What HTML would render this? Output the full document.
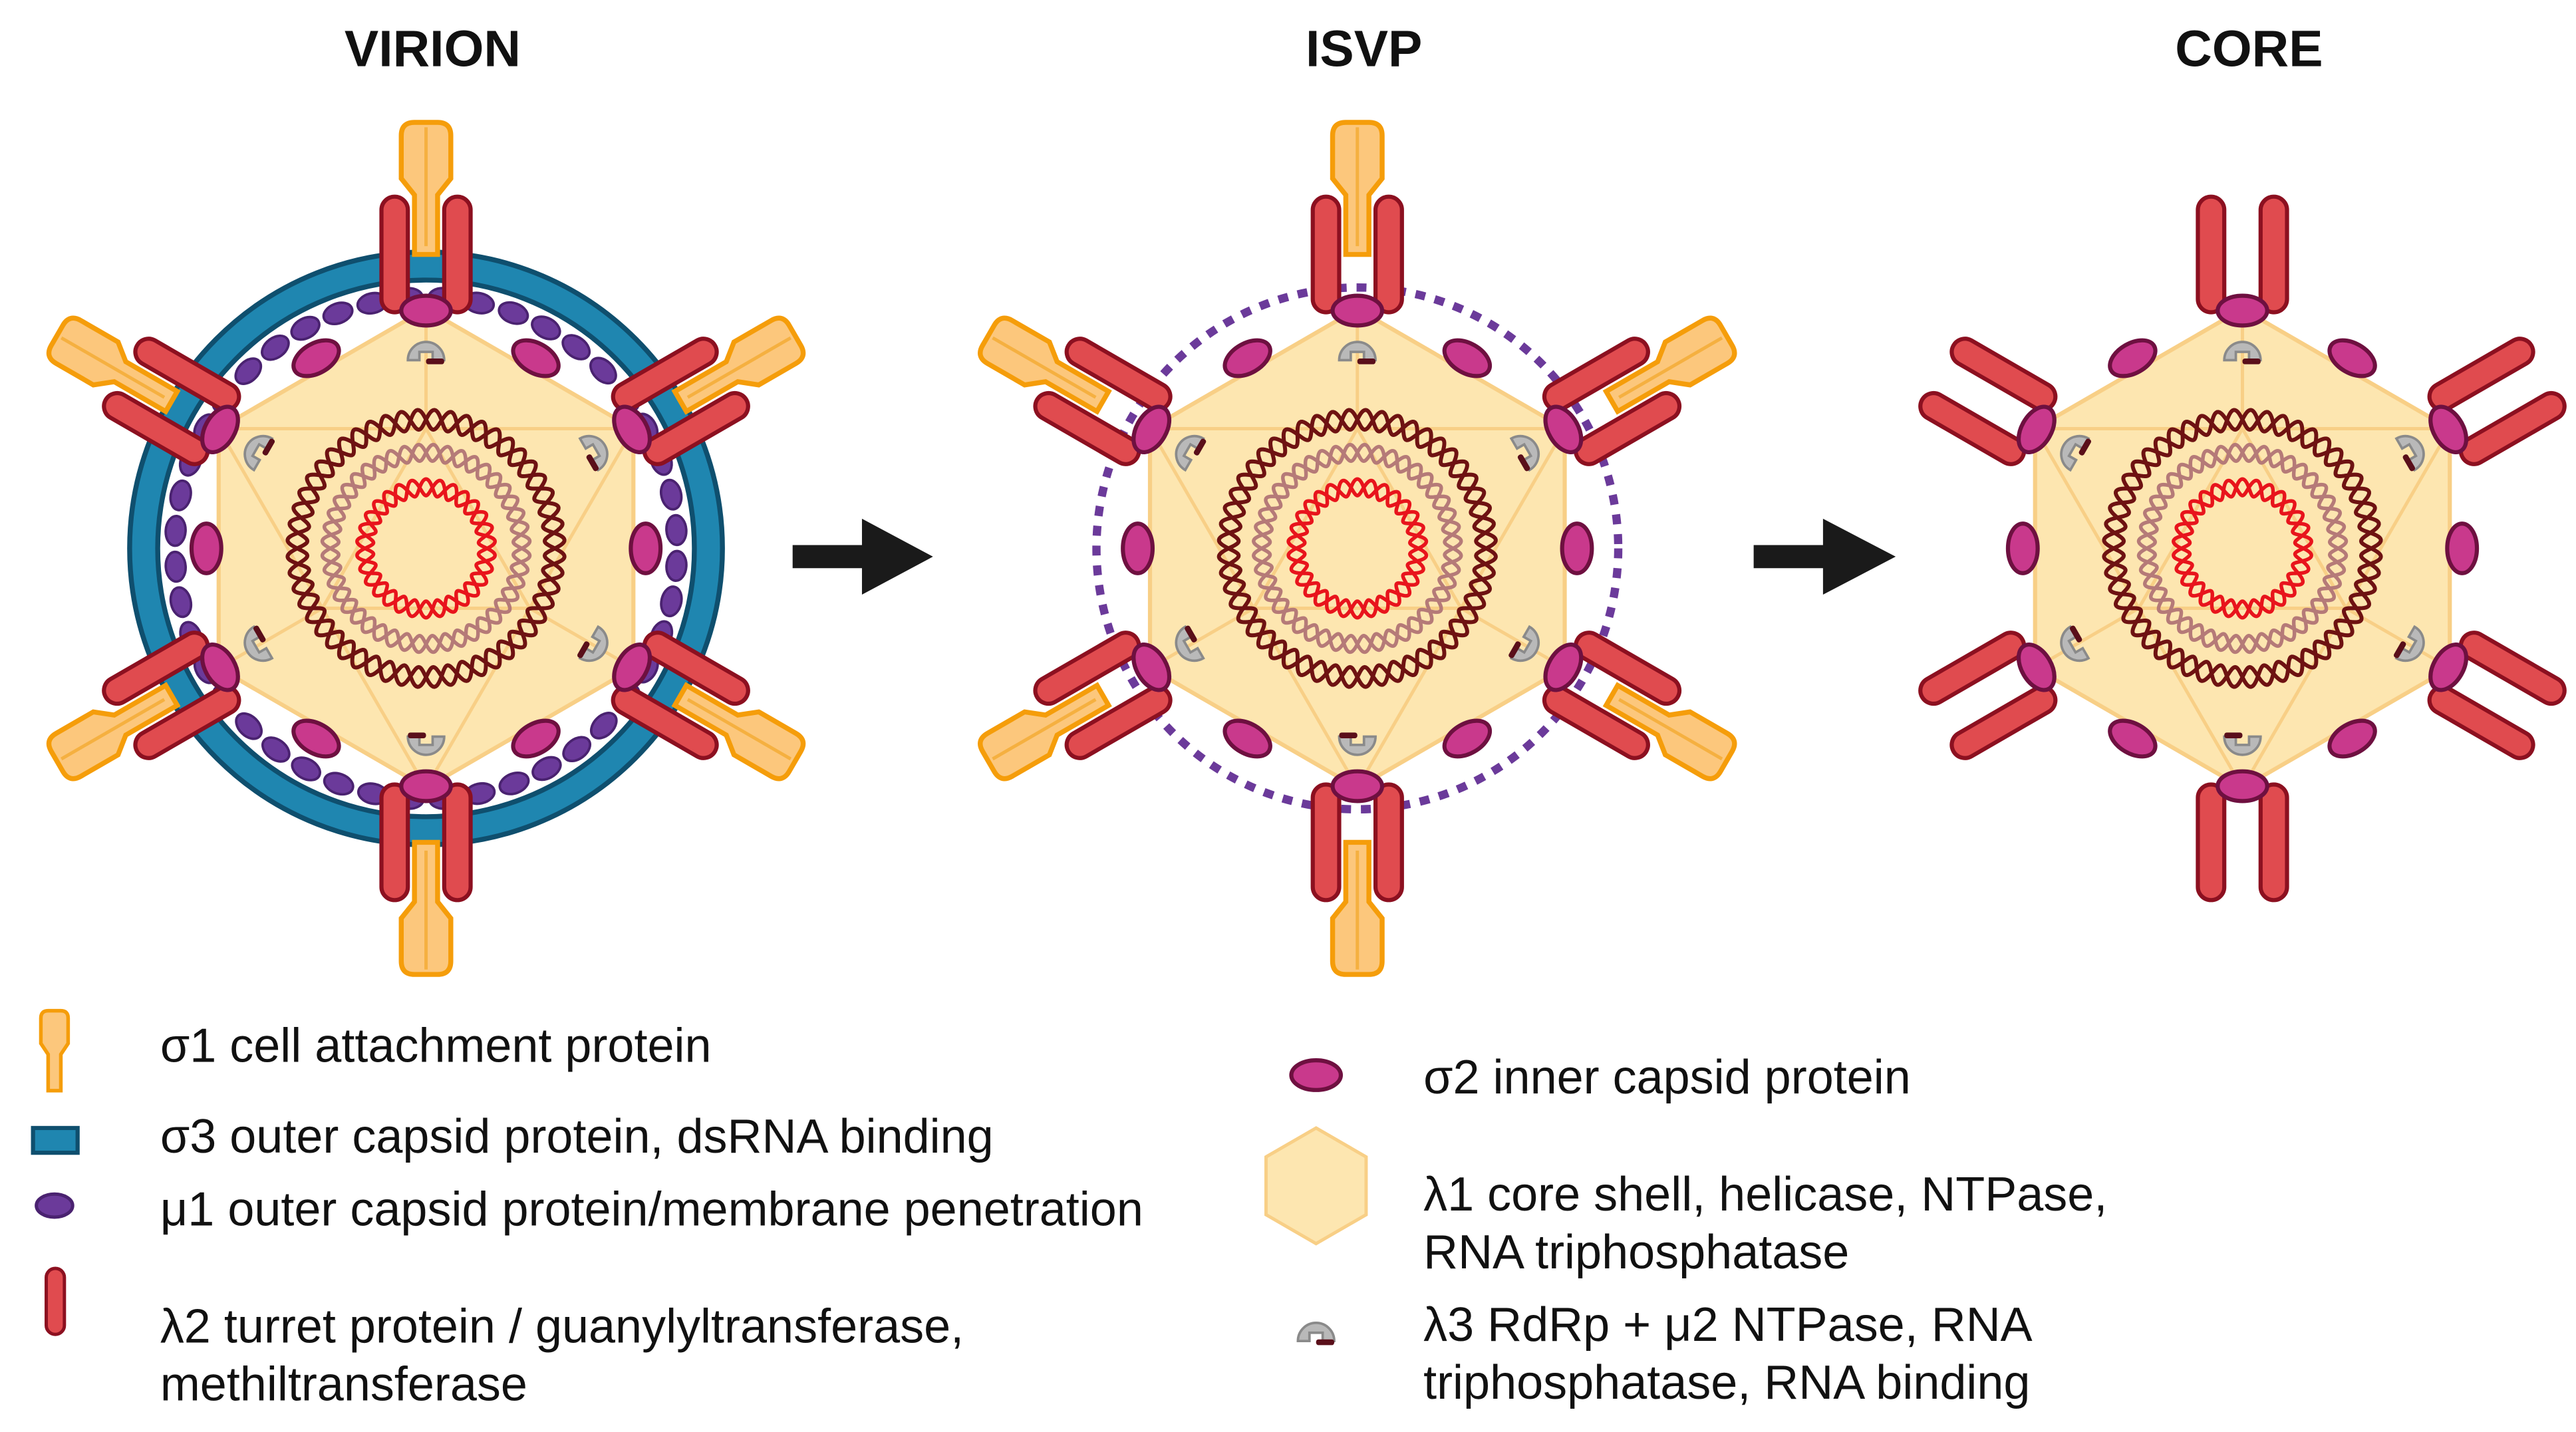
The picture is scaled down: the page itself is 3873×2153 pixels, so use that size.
<!DOCTYPE html>
<html><head><meta charset="utf-8">
<style>
html,body{margin:0;padding:0;background:#fff;}
svg{display:block;}
text{font-family:"Liberation Sans",sans-serif;fill:#111;}
</style></head>
<body>
<svg id="s" xmlns="http://www.w3.org/2000/svg" width="3873" height="2153" viewBox="0 0 1560 867">
<rect width="1560" height="867" fill="#fff"/>
<g font-weight="bold" font-size="31" text-anchor="middle">
<text x="262" y="40">VIRION</text>
<text x="826" y="40">ISVP</text>
<text x="1362" y="40">CORE</text>
</g>
<g id="layer"></g>
<polygon points="480,330 522,330 522,314 565,337 522,360 522,344 480,344" fill="#1a1a1a"/>
<polygon points="1062,330 1104,330 1104,314 1148,337 1104,360 1104,344 1062,344" fill="#1a1a1a"/>
<g font-size="29">
<text x="97" y="643">σ1 cell attachment protein</text>
<text x="97" y="698">σ3 outer capsid protein, dsRNA binding</text>
<text x="97" y="742">μ1 outer capsid protein/membrane penetration</text>
<text x="97" y="813">λ2 turret protein / guanylyltransferase,</text>
<text x="97" y="848">methiltransferase</text>
<text x="862" y="662">σ2 inner capsid protein</text>
<text x="862" y="733">λ1 core shell,  helicase, NTPase,</text>
<text x="862" y="768">RNA triphosphatase</text>
<text x="862" y="812">λ3 RdRp + μ2 NTPase, RNA</text>
<text x="862" y="847">triphosphatase, RNA binding</text>
</g>
<g id="legicons"></g>
</svg>
<script>
var NS="http://www.w3.org/2000/svg";
var L=document.getElementById("layer");
function el(t,a,p){var e=document.createElementNS(NS,t);for(var k in a)e.setAttribute(k,a[k]);(p||L).appendChild(e);return e;}
function rad(d){return d*Math.PI/180;}
function pt(cx,cy,r,a){return [cx+r*Math.cos(rad(a)),cy+r*Math.sin(rad(a))];}
var VA=[-90,-30,30,90,150,210];
function hexagon(cx,cy,R,p){
 var s="";VA.forEach(function(a){var q=pt(cx,cy,R,a);s+=q[0]+","+q[1]+" ";});
 el("polygon",{points:s,fill:"#fde6b0",stroke:"#f8cf86","stroke-width":2.5},p);
 var s2="";[-90,30,150].forEach(function(a){var q=pt(cx,cy,R*0.5,a);s2+=q[0]+","+q[1]+" ";});
 el("polygon",{points:s2,fill:"none",stroke:"#f8cf86","stroke-width":2},p);
 VA.forEach(function(a){var v=pt(cx,cy,R,a);
  [-90,30,150].forEach(function(b){var d=Math.abs(((a-b+540)%360)-180);if(d<=60){var q=pt(cx,cy,R*0.5,b);el("line",{x1:v[0],y1:v[1],x2:q[0],y2:q[1],stroke:"#f8cf86","stroke-width":2},p);}});
 });
}
function wavy(cx,cy,r,amp,n,col,w,ph){
 var d="";for(var i=0;i<=720;i++){var t=i/720*2*Math.PI;var rr=r+amp*Math.sin(n*t+ph);d+=(i?"L":"M")+(cx+rr*Math.cos(t)).toFixed(2)+","+(cy+rr*Math.sin(t)).toFixed(2);}
 el("path",{d:d,fill:"none",stroke:col,"stroke-width":w});
}
function genome(cx,cy){
 wavy(cx,cy,78,6,26,"#6e1212",2.4,0);wavy(cx,cy,78,6,26,"#6e1212",2.4,Math.PI);
 wavy(cx,cy,58,5,22,"#b57a78",2.2,0);wavy(cx,cy,58,5,22,"#b57a78",2.2,Math.PI);
 wavy(cx,cy,37,5,15,"#e8141c",2.2,0);wavy(cx,cy,37,5,15,"#e8141c",2.2,Math.PI);
}
function sig2(x,y,ang,p){el("ellipse",{cx:x,cy:y,rx:15,ry:9,fill:"#c9398c",stroke:"#6e1040","stroke-width":2.5,transform:"rotate("+ang+" "+x+" "+y+")"},p);}
function lam3(x,y,ang,p){var g=el("g",{transform:"translate("+x+","+y+") rotate("+ang+")"},p);
 el("path",{d:"M-11,4 A11,11 0 1 1 11,4 L4,4 L4,-1 L-4,-1 L-4,4 Z",fill:"#b9b9b9",stroke:"#8a8a8a","stroke-width":1.5},g);
 el("rect",{x:0,y:3,width:11,height:3.5,fill:"#5a0f1a",rx:1.5},g);}
function turret(cx,cy,a,r0,len,p){
 var g=el("g",{transform:"translate("+cx+","+cy+") rotate("+(a+90)+")"},p);
 [-19,19].forEach(function(o){el("rect",{x:o-8,y:-(r0+len),width:16,height:len,rx:8,fill:"#e04b4f",stroke:"#8c1020","stroke-width":2.5},g);});
}
function sigma1(cx,cy,a,r0,p){
 var g=el("g",{transform:"translate("+cx+","+cy+") rotate("+(a+90)+")"},p);
 el("path",{d:"M-7,"+(-r0)+" L-7,"+(-r0-36)+" L-15,"+(-r0-46)+" L-15,"+(-r0-72)+" Q-15,"+(-r0-80)+" -7,"+(-r0-80)+" L7,"+(-r0-80)+" Q15,"+(-r0-80)+" 15,"+(-r0-72)+" L15,"+(-r0-46)+" L7,"+(-r0-36)+" L7,"+(-r0)+" Z",fill:"#fcc77c",stroke:"#f59d0a","stroke-width":3},g);
 el("line",{x1:0,y1:-r0-5,x2:0,y2:-r0-77,stroke:"#f5b040","stroke-width":2},g);
}
function virus(cx,cy,mode){
 if(mode=="virion"){
  el("circle",{cx:cx,cy:cy,r:171,fill:"none",stroke:"#0f4f6e","stroke-width":20});
  el("circle",{cx:cx,cy:cy,r:171,fill:"none",stroke:"#1f86b0","stroke-width":14});
  for(var i=0;i<44;i++){var a=i*360/44+4;var q=pt(cx,cy,152,a);el("ellipse",{cx:q[0],cy:q[1],rx:9,ry:6,fill:"#6b3a9a",stroke:"#4a2270","stroke-width":1.5,transform:"rotate("+(a+90)+" "+q[0]+" "+q[1]+")"});}
 }
 if(mode=="isvp"){el("circle",{cx:cx,cy:cy,r:158,fill:"none",stroke:"#6b3a9a","stroke-width":5,"stroke-dasharray":"6 6"});}
 hexagon(cx,cy,145);
 genome(cx,cy);
 VA.forEach(function(a){var q=pt(cx,cy,118,a);lam3(q[0],q[1],a+90);});
 [0,60,120,180,240,300].forEach(function(a){var q=pt(cx,cy,133,a);sig2(q[0],q[1],a+90);});
 VA.forEach(function(a){
  if(mode!="core"){sigma1(cx,cy,a,178);}
  turret(cx,cy,a,143,70);
  var q=pt(cx,cy,144,a);sig2(q[0],q[1],a+90);
 });
}
virus(258,332,"virion");
virus(822,332,"isvp");
virus(1358,332,"core");
var LG=document.getElementById("legicons");
(function(){var g=el("g",{transform:"translate(33,612) scale(0.55)"},LG);
 el("path",{d:"M-7,88 L-7,48 L-15,36 L-15,8 Q-15,0 -7,0 L7,0 Q15,0 15,8 L15,36 L7,48 L7,88 Z",fill:"#fcc77c",stroke:"#f59d0a","stroke-width":4},g);})();
el("rect",{x:20,y:683,width:27,height:15,fill:"#1f86b0",stroke:"#0f4f6e","stroke-width":2.5},LG);
el("ellipse",{cx:33,cy:730,rx:11,ry:7,fill:"#6b3a9a",stroke:"#4a2270","stroke-width":2},LG);
el("rect",{x:28,y:768,width:11,height:40,rx:5.5,fill:"#e04b4f",stroke:"#8c1020","stroke-width":2},LG);
sig2(797,651,0,LG);
(function(){var s="";VA.forEach(function(a){var q=pt(797,718,35,a);s+=q[0]+","+q[1]+" ";});el("polygon",{points:s,fill:"#fde6b0",stroke:"#f8cf86","stroke-width":2},LG);})();
lam3(797,808,0,LG);
</script>
</body></html>
